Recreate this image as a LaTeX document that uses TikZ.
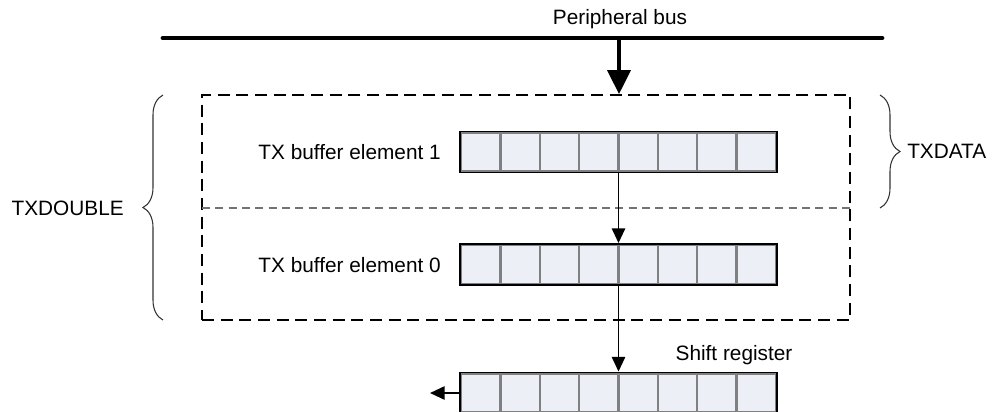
\documentclass[tikz,border=0pt]{standalone}
\usepackage{fontspec}
\setmainfont{Liberation Sans}
\usetikzlibrary{matrix,arrows.meta,decorations.pathreplacing}

\definecolor{regfill}{RGB}{236,240,246}

\tikzset{
  regcell/.style={draw=gray, line width=0.9pt, fill=regfill,
                  minimum width=28.6pt, minimum height=28.5pt, inner sep=0pt},
  register/.style={matrix of nodes, nodes in empty cells,
                   ampersand replacement=\&, nodes={regcell},
                   column sep=0pt, draw, line width=2.8pt, inner sep=0pt},
  label/.style={font=\fontsize{15.6}{18}\selectfont, inner sep=0pt},
  flow/.style={line width=1.3pt, -{Triangle[length=11pt,width=10pt]}},
  busarrow/.style={line width=3.2pt, -{Triangle[length=18pt,width=17pt]}},
  outerdash/.style={draw, line width=1.2pt, dash pattern=on 9pt off 5pt},
  innerdash/.style={draw=black!55, line width=0.8pt, dash pattern=on 6pt off 4pt},
  regbrace/.style={decorate, decoration={brace, amplitude=15pt}, line width=0.8pt, black!80}
}

\begin{document}
\begin{tikzpicture}[x=0.75pt, y=-0.75pt]
    \useasboundingbox (0,0) rectangle (992,411);

    % peripheral bus
    \coordinate (busL) at (163,38);
    \coordinate (busR) at (882,38);
    \coordinate (drop) at (619,38);
    \draw[line width=3.6pt, line cap=round] (busL) -- (busR);
    \node[label] (bus) at (620,19) {Peripheral bus};

    % TXDATA / TXDOUBLE area
    \node[outerdash, minimum width=486pt, minimum height=168.75pt, inner sep=0pt]
        (txbox) at (526,207.5) {};
    \coordinate (midL) at (202,208);
    \coordinate (midR) at (850,208);
    \draw[innerdash] (midL) -- (midR);

    % registers
    \matrix (buf1) [register] at (618.5,152) {
      \& \& \& \& \& \& \& \\
    };
    \matrix (buf0) [register] at (618.5,264.5) {
      \& \& \& \& \& \& \& \\
    };
    \matrix (shift) [register] at (618.5,393) {
      \& \& \& \& \& \& \& \\
    };

    \node[label, anchor=east] (lbl1) at (441,152) {TX buffer element 1};
    \node[label, anchor=east] (lbl0) at (441,265) {TX buffer element 0};
    \node[label] (lblshift) at (734,355) {Shift register};

    % arrows
    \draw[busarrow] (drop) -- (drop |- txbox.north);
    \draw[flow] (buf1.south) -- (buf0.north);
    \draw[flow] (buf0.south) -- (shift.north);
    \coordinate (out) at (430,393);
    \draw[flow] (shift.west) -- (out);

    % braces
    \coordinate (dblB) at (163,320);
    \coordinate (dblT) at (163,95);
    \draw[regbrace] (dblB) -- (dblT);
    \node[label, anchor=east] (txdouble) at (124,208) {TXDOUBLE};
    \coordinate (datT) at (880,95);
    \coordinate (datB) at (880,208);
    \draw[regbrace] (datT) -- (datB);
    \node[label, anchor=west] (txdata) at (907,151) {TXDATA};
\end{tikzpicture}
\end{document}
